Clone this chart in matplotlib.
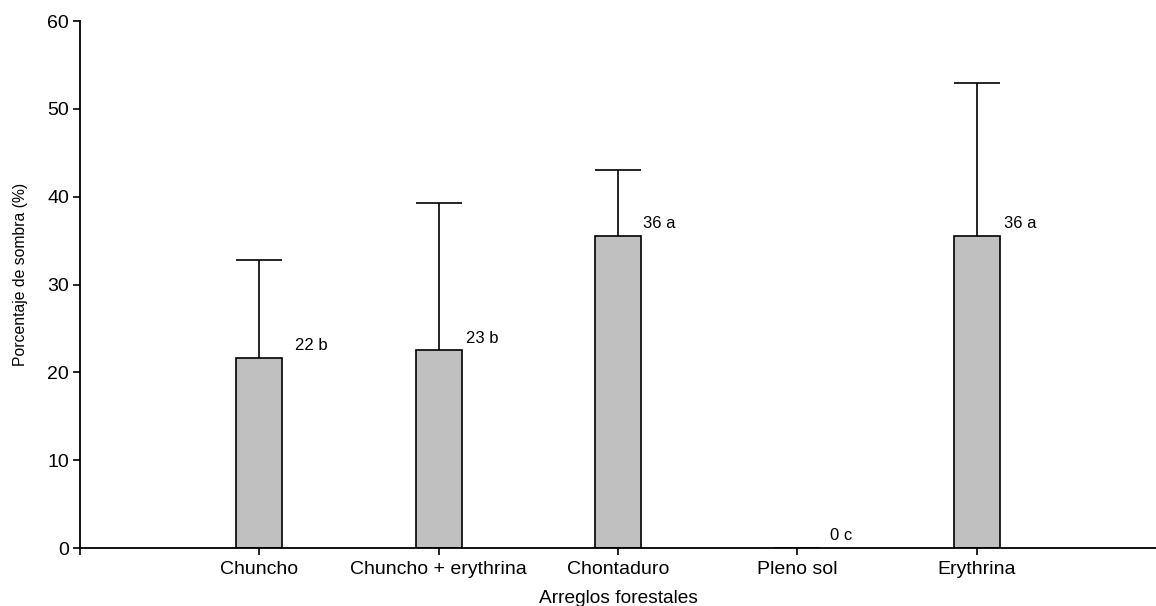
import matplotlib
matplotlib.use('Agg')
import matplotlib.pyplot as plt
import numpy as np

plt.rcParams['font.family'] = ['Liberation Sans', 'DejaVu Sans']

# Shade percentage per forest arrangement
arreglos = ['Chuncho', 'Chuncho + erythrina', 'Chontaduro', 'Pleno sol', 'Erythrina']
sombra = [21.6, 22.5, 35.5, 0, 35.5]
error_sup = [11.2, 16.8, 7.5, 0, 17.5]
etiquetas = ['22 b', '23 b', '36 a', '0 c', '36 a']
label_dx = [0.20, 0.15, 0.14, 0.18, 0.15]

x = np.arange(len(arreglos))
ancho = 0.256

fig = plt.figure(figsize=(11.56, 6.06), dpi=100)
ax = fig.add_axes([0.0692, 0.0957, 0.9308, 0.8696])

ax.bar(x, sombra, width=ancho, color='#c0c0c0', edgecolor='black', linewidth=1.2, zorder=2)

# upper error bars only, cap as wide as the bar
for xi, v, e in zip(x, sombra, error_sup):
    if e > 0:
        ax.vlines(xi, v, v + e, color='black', linewidth=1.2, zorder=1)
        ax.hlines(v + e, xi - ancho / 2, xi + ancho / 2, color='black', linewidth=1.2, zorder=1)

for xi, v, lab, dx in zip(x, sombra, etiquetas, label_dx):
    ax.text(xi + dx, v + 1.4, lab, ha='left', va='center', fontsize=12)

ax.set_xlim(-1, 5)
ax.set_ylim(0, 60)
ax.set_xticks([-1] + list(x))
ax.set_xticklabels([''] + arreglos, fontsize=14)
ax.set_yticks(range(0, 61, 10))
ax.tick_params(axis='y', labelsize=14, length=5, width=1.2, direction='out', pad=3)
ax.tick_params(axis='x', length=5, width=1.2, direction='out', pad=4)

for s in ['top', 'right']:
    ax.spines[s].set_visible(False)
for s in ['left', 'bottom']:
    ax.spines[s].set_linewidth(1.3)

ax.set_xlabel('Arreglos forestales', fontsize=13.8, labelpad=9)
ax.set_ylabel('Porcentaje de sombra (%)', fontsize=11.3)
ax.yaxis.set_label_coords(-0.0485, 0.519)

fig.savefig('out.png', dpi=100)
